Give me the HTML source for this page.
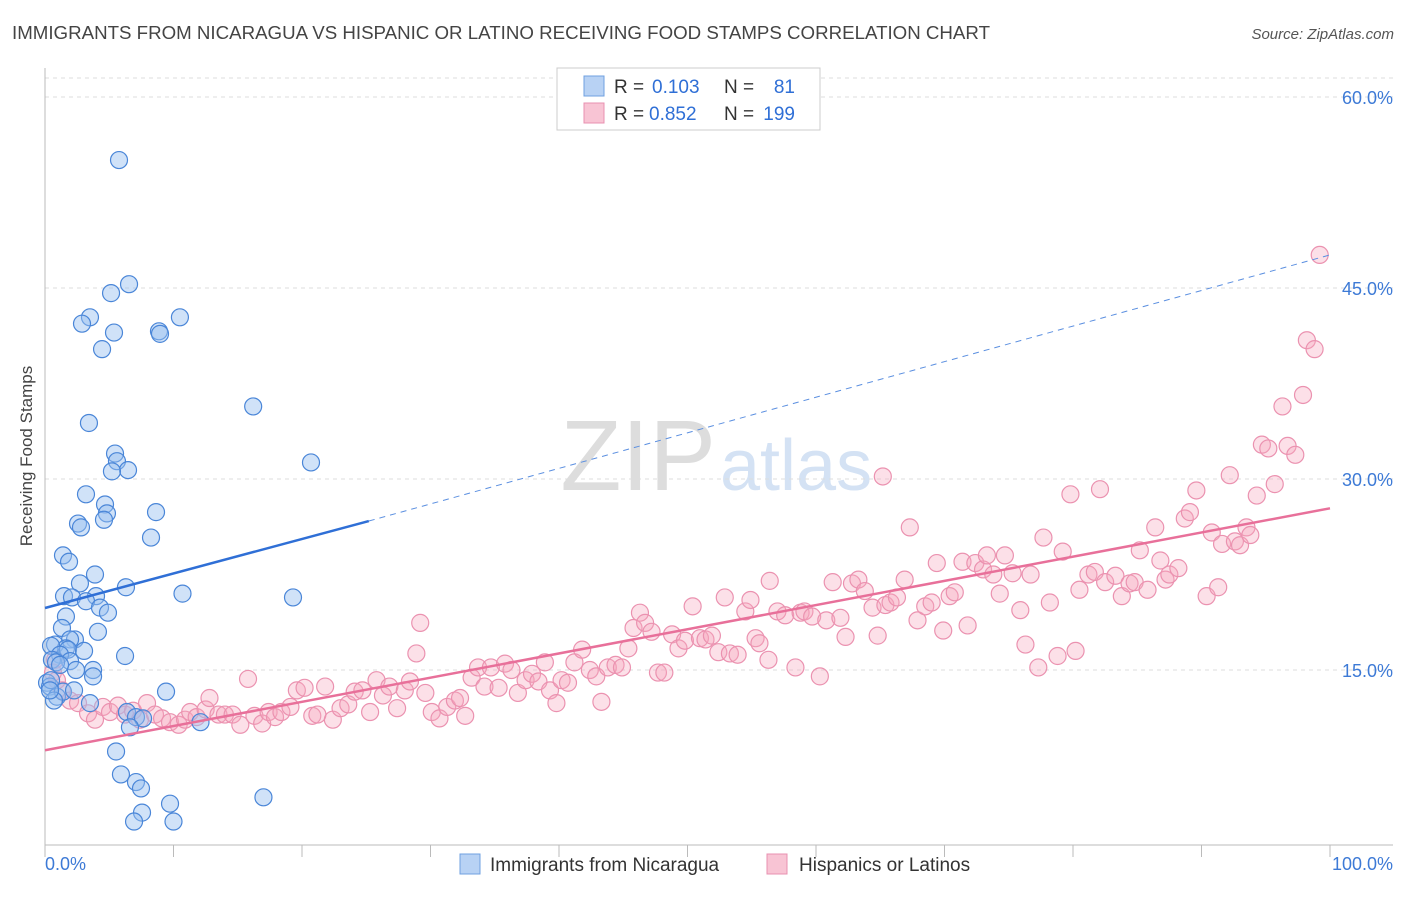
<!DOCTYPE html>
<html><head><meta charset="utf-8"><style>
body{margin:0;background:#fff;font-family:"Liberation Sans",sans-serif}
svg text{font-family:"Liberation Sans",sans-serif}
</style></head><body>
<svg id="c" width="1406" height="892" xmlns="http://www.w3.org/2000/svg">
<text x="12" y="39" font-size="18" fill="#444" textLength="978" lengthAdjust="spacingAndGlyphs">IMMIGRANTS FROM NICARAGUA VS HISPANIC OR LATINO RECEIVING FOOD STAMPS CORRELATION CHART</text>
<text x="1394" y="39" font-size="15" fill="#555" font-style="italic" text-anchor="end">Source: ZipAtlas.com</text>
<text x="716" y="490" font-size="100" fill="#ddd" text-anchor="end" font-family="Liberation Serif">ZIP</text>
<text x="720" y="490" font-size="72" fill="#d4e2f4">atlas</text>
<g id="grid"></g>
<line x1="45" y1="68" x2="45" y2="845" stroke="#bbb"/>
<line x1="45" y1="845" x2="1393" y2="845" stroke="#bbb"/>
<text x="32" y="456" font-size="17" fill="#444" text-anchor="middle" transform="rotate(-90 32 456)">Receiving Food Stamps</text>
<g id="pts"></g>
<g id="trend"></g>
<g>
<rect x="557" y="68" width="263" height="62" fill="#fff" stroke="#ccc"/>
<rect x="584" y="76" width="20" height="20" fill="#b8d2f4" stroke="#6fa0e0"/>
<rect x="584" y="103" width="20" height="20" fill="#f8c4d4" stroke="#e890b0"/>
<text x="614" y="93" font-size="19" fill="#333">R =</text>
<text x="652" y="93" font-size="19" fill="#2f6fd6">0.103</text>
<text x="724" y="93" font-size="19" fill="#333">N =</text>
<text x="795" y="93" font-size="19" fill="#2f6fd6" text-anchor="end">81</text>
<text x="614" y="120" font-size="19" fill="#333">R =</text>
<text x="649" y="120" font-size="19" fill="#2f6fd6">0.852</text>
<text x="724" y="120" font-size="19" fill="#333">N =</text>
<text x="795" y="120" font-size="19" fill="#2f6fd6" text-anchor="end">199</text>
</g>
<g>
<rect x="460" y="854" width="20" height="20" fill="#b8d2f4" stroke="#6fa0e0"/>
<text x="490" y="871" font-size="19" fill="#333">Immigrants from Nicaragua</text>
<rect x="767" y="854" width="20" height="20" fill="#f8c4d4" stroke="#e890b0"/>
<text x="799" y="871" font-size="19" fill="#333">Hispanics or Latinos</text>
</g>
<text x="45" y="870" font-size="18" fill="#3d7ad6">0.0%</text>
<text x="1393" y="870" font-size="18" fill="#3d7ad6" text-anchor="end">100.0%</text>
</svg>
<script>
const yTicks=[15,30,45,60];
const yTickLabels=["15.0%","30.0%","45.0%","60.0%"];
const xTicks=[0,10,20,30,40,50,60,70,80,90,100];
const blueX=[5.76,6.54,5.14,3.5,10.5,2.88,5.37,8.87,8.95,4.44,16.2,3.42,20.7,5.45,5.6,6.46,5.21,3.19,4.67,4.82,8.64,2.57,4.59,2.8,8.25,1.4,1.87,3.89,2.72,6.3,1.48,2.1,3.97,10.7,19.3,3.19,4.28,4.9,1.63,1.32,4.12,2.33,1.95,0.78,1.63,0.47,1.79,3.04,1.17,0.54,1.95,6.23,0.86,2.41,3.74,0.16,0.39,3.74,0.47,0.93,1.4,9.42,3.5,6.38,7.08,12.1,7.63,6.61,5.53,5.91,7.08,7.47,17.0,9.73,7.55,6.93,10.0,0.7,0.39,1.17,2.26];
const blueY=[55.05,45.3,44.6,42.7,42.7,42.2,41.5,41.6,41.4,40.2,35.7,34.4,31.3,32.0,31.4,30.7,30.6,28.8,28.0,27.3,27.4,26.5,26.8,26.2,25.4,24.0,23.5,22.5,21.8,21.5,20.8,20.7,20.8,21.0,20.7,20.4,19.9,19.5,19.2,18.3,18.0,17.4,17.4,17.0,16.7,16.9,16.6,16.5,16.2,15.8,15.7,16.1,15.6,15.0,15.0,14.0,13.7,14.5,14.2,12.9,13.3,13.3,12.4,11.7,11.3,10.9,11.2,10.5,8.6,6.8,6.2,5.7,5.0,4.5,3.8,3.1,3.1,12.6,13.4,15.4,13.4];
const pinkX=[
0.78,0.62,0.93,1.32,1.95,2.57,3.35,3.89,4.51,5.06,
5.68,6.23,6.85,7.39,7.94,8.56,9.11,9.73,10.4,10.9,
11.3,11.8,12.5,12.8,13.5,14.0,14.6,15.2,15.8,16.3,
16.9,17.4,17.9,18.4,19.1,19.6,20.2,20.8,21.2,21.8,
22.4,23.0,23.6,24.1,24.7,25.3,25.8,26.3,26.8,27.4,
28.0,28.4,29.2,28.9,29.6,30.1,30.7,31.3,31.9,32.3,
32.7,33.2,33.7,34.2,34.7,35.3,35.8,36.3,36.8,37.4,
37.9,38.4,38.9,39.3,39.8,40.2,40.7,41.2,41.8,42.4,
42.9,43.3,43.8,44.4,44.9,45.4,45.8,46.3,46.7,47.2,
47.7,48.2,48.8,49.3,49.8,50.4,50.97,51.4,51.9,52.4,
52.9,53.3,53.9,54.5,54.9,55.3,55.6,56.3,56.4,57.0,
57.6,58.4,58.8,59.1,59.7,60.3,60.8,61.3,61.9,62.3,
62.8,63.3,63.8,64.4,64.8,65.4,65.8,66.3,66.9,67.3,
67.9,68.5,69.0,69.4,69.9,70.4,70.8,71.4,71.8,72.4,
73.0,73.3,73.8,74.3,74.7,75.3,75.9,76.3,76.7,77.3,
77.7,78.2,78.8,79.2,79.8,80.2,80.5,81.2,81.7,82.1,
82.5,83.3,83.8,84.4,84.8,85.2,85.8,86.4,86.8,87.2,
87.5,88.2,88.7,89.1,89.6,90.4,90.8,91.3,91.6,92.2,
92.6,93.0,93.5,93.8,94.3,94.7,95.2,95.7,96.3,96.7,
97.3,97.9,98.2,98.8,99.2,65.2];
const pinkY=[
15.8,14.8,14.2,13.4,12.6,12.4,11.6,11.1,12.1,11.7,
12.2,11.5,11.8,11.1,12.4,11.5,11.2,10.9,10.7,11.1,
11.7,11.3,11.9,12.8,11.5,11.5,11.5,10.7,14.3,11.4,
10.8,11.7,11.3,11.7,12.1,13.4,13.6,11.4,11.5,13.7,
11.1,12.0,12.3,13.3,13.4,11.7,14.2,13.0,13.7,12.0,
13.4,14.1,18.7,16.3,13.2,11.7,11.2,12.1,12.6,12.8,
11.4,14.4,15.2,13.7,15.2,13.6,15.5,15.0,13.2,14.2,
14.7,14.1,15.6,13.4,12.4,14.2,14.0,15.6,16.6,15.0,
14.5,12.5,15.2,15.4,15.2,16.7,18.3,19.5,18.7,18.0,
14.8,14.8,17.8,16.7,17.3,20.0,17.5,17.4,17.7,16.4,
20.7,16.3,16.2,19.6,20.5,17.5,17.1,15.8,22.0,19.6,
19.3,15.2,19.5,19.6,19.2,14.5,18.9,21.9,19.1,17.6,
21.8,22.1,21.2,19.9,17.7,20.1,20.3,20.7,22.1,26.2,
18.9,20.0,20.3,23.4,18.1,20.8,21.1,23.5,18.5,23.4,
22.9,24.0,22.5,21.0,24.0,22.6,19.7,17.0,22.5,15.2,
25.4,20.3,16.1,24.3,28.8,16.5,21.3,22.5,22.7,29.2,
21.9,22.4,20.8,21.8,21.9,24.4,21.3,26.2,23.6,22.1,
22.5,23.0,26.9,27.4,29.1,20.8,25.8,21.5,24.9,30.3,
25.1,24.8,26.2,25.6,28.7,32.7,32.4,29.6,35.7,32.6,
31.9,36.6,40.9,40.2,47.6,30.2];
const blueTrend=[0,19.87,25.2,26.7,100,47.6];
const pinkTrend=[0,8.7,100,27.7];
const NS="http://www.w3.org/2000/svg";
const X=v=>45+v*12.85, Y=v=>861-v*12.733;
function mk(t,a,p){const e=document.createElementNS(NS,t);for(const k in a)e.setAttribute(k,a[k]);p.appendChild(e);return e;}
const grid=document.getElementById('grid');
yTicks.forEach((t,i)=>{
 const l=mk('line',{x1:45,x2:1393,y1:Y(t),y2:Y(t),stroke:'#ddd','stroke-dasharray':'4,4'},grid);
 
 
 const tx=mk('text',{x:1393,y:Y(t)+7,'font-size':18,fill:'#3d7ad6','text-anchor':'end'},grid);
 tx.textContent=yTickLabels[i];
 
 
});
const topGrid=mk('line',{x1:45,x2:1393,y1:78,y2:78,stroke:'#ddd','stroke-dasharray':'4,4'},grid);


xTicks.forEach(t=>{
 const l=mk('line',{x1:X(t),x2:X(t),y1:845,y2:857,stroke:'#bbb'},grid);
 
 
});
const pts=document.getElementById('pts');
pinkX.forEach((v,i)=>{
 const c=mk('circle',{cx:X(v),cy:Y(pinkY[i]),r:8.5,fill:'rgba(245,165,190,0.35)',stroke:'#eb92b0','stroke-width':1.2},pts);
 
 
});
blueX.forEach((v,i)=>{
 const c=mk('circle',{cx:X(v),cy:Y(blueY[i]),r:8.5,fill:'rgba(150,190,240,0.45)',stroke:'#4a86d8','stroke-width':1.2},pts);
 
 
});
const tr=document.getElementById('trend');
const b1=mk('line',{x1:X(blueTrend[0]),y1:Y(blueTrend[1]),x2:X(blueTrend[2]),y2:Y(blueTrend[3]),stroke:'#2f6fd6','stroke-width':2.5},tr);


const b2=mk('line',{x1:X(blueTrend[2]),y1:Y(blueTrend[3]),x2:X(blueTrend[4]),y2:Y(blueTrend[5]),stroke:'#5b8fe0','stroke-width':1,'stroke-dasharray':'6,5'},tr);


const p1=mk('line',{x1:X(pinkTrend[0]),y1:Y(pinkTrend[1]),x2:X(pinkTrend[2]),y2:Y(pinkTrend[3]),stroke:'#e8709a','stroke-width':2.5},tr);


</script>
</body></html>
